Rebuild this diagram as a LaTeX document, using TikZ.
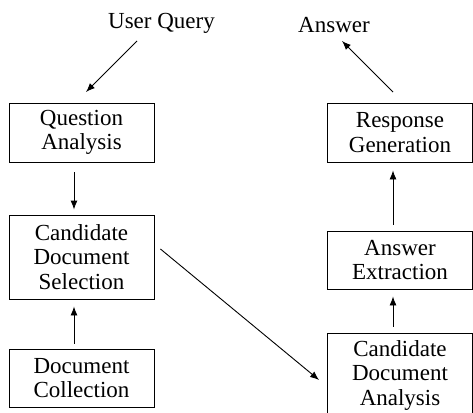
\documentclass[tikz,border=0pt]{standalone}
\usepackage{fontspec}
\setmainfont{Liberation Serif}
\newfontfamily\diagfont{Liberation Serif}
\usetikzlibrary{arrows.meta}
\tikzset{
  box/.style={draw, line width=0.9pt, minimum width=145pt, inner sep=0pt, align=center,
    font=\diagfont\fontsize{23}{24.5}\selectfont},
  lbl/.style={inner sep=0pt, font=\diagfont\fontsize{23}{24.5}\selectfont},
  arr/.style={-{Latex[length=9pt,width=7pt]}, line width=0.9pt}
}
\begin{document}
\begin{tikzpicture}[x=1pt,y=-1pt]
\useasboundingbox (0,0) rectangle (473,412);
\begin{scope}
\clip (0,0) rectangle (473,412);
\node[box, minimum height=59pt] (qa) at (81.5,132.5) {Question\\Analysis};
\node[box, minimum height=84pt] (cds) at (81.5,257) {Candidate\\Document\\Selection};
\node[box, minimum height=58pt] (dc) at (81.5,378) {Document\\Collection};
\node[box, minimum height=59pt] (rg) at (400,132.5) {Response\\Generation};
\node[box, minimum height=58pt] (ae) at (400,260) {Answer\\Extraction};
\node[box, minimum height=84pt] (cda) at (400,375) {Candidate\\Document\\Analysis};
\node[lbl, anchor=base] (uq) at (161.5,29) {User Query};
\node[lbl, anchor=base] (ans) at (334,33) {Answer};
\coordinate (uqs) at (137,41);
\coordinate (qat) at (86,92);
\coordinate (rgt) at (393,92);
\coordinate (anse) at (342,41);
\draw[arr] (uqs) -- (qat);
\draw[arr] (rgt) -- (anse);
\draw[arr] ([xshift=-7.5pt,yshift=-10pt]qa.south) -- ([xshift=-7.5pt,yshift=5pt]cds.north);
\draw[arr] ([xshift=-7.5pt,yshift=5pt]dc.north) -- ([xshift=-7.5pt,yshift=-7pt]cds.south);
\draw[arr] ([xshift=6pt,yshift=8pt]cds.east) -- ([xshift=-8pt,yshift=-5pt]cda.west);
\draw[arr] ([xshift=-7pt,yshift=6pt]cda.north) -- ([xshift=-7pt,yshift=-7pt]ae.south);
\draw[arr] ([xshift=-7pt,yshift=6pt]ae.north) -- ([xshift=-7pt,yshift=-8pt]rg.south);
\end{scope}
\end{tikzpicture}
\end{document}
